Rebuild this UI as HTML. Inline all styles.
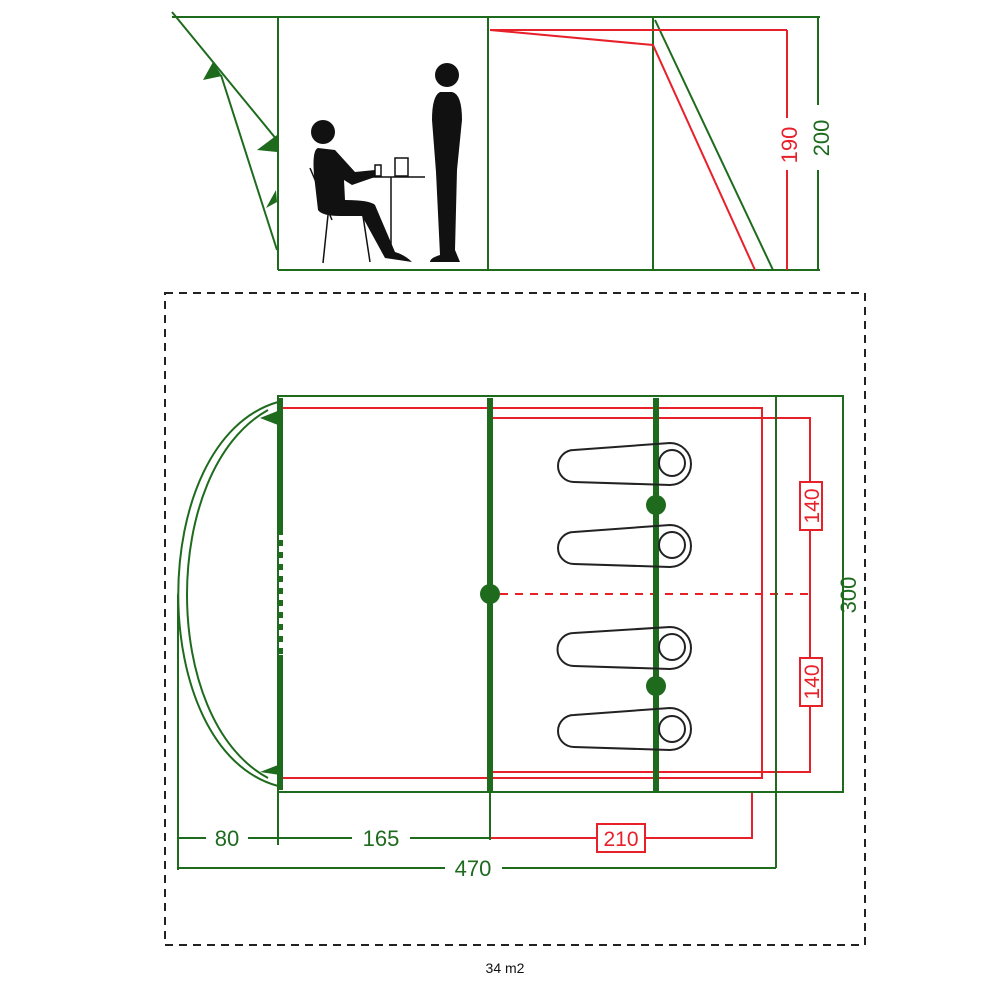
<!DOCTYPE html>
<html><head><style>body{margin:0;background:#fff}svg{display:block}</style></head><body>
<svg width="1000" height="1000" viewBox="0 0 1000 1000" xmlns="http://www.w3.org/2000/svg" font-family="Liberation Sans, sans-serif">
<g fill="none" stroke="#1e6b1e" stroke-width="2">
<line x1="172" y1="17" x2="820" y2="17"/>
<line x1="278" y1="270" x2="820" y2="270"/>
<line x1="278" y1="17" x2="278" y2="270"/>
<line x1="488" y1="17" x2="488" y2="270"/>
<line x1="653" y1="17" x2="653" y2="270"/>
<line x1="818" y1="17" x2="818" y2="105"/>
<line x1="818" y1="170" x2="818" y2="270"/>
<line x1="172" y1="12" x2="277" y2="140"/>
<line x1="221" y1="75" x2="277" y2="250"/>
<line x1="655" y1="20" x2="773" y2="270"/>
</g>
<g fill="#1e6b1e">
<polygon points="213,62 203,80 222,76"/>
<polygon points="277,135 257,150 277,152"/>
<polygon points="276,190 266,208 277,202"/>
</g>
<g fill="none" stroke="#e8202a" stroke-width="2">
<line x1="490" y1="30" x2="787" y2="30"/>
<polyline points="490,30 653,45 755,270"/>
<line x1="787" y1="30" x2="787" y2="118"/>
<line x1="787" y1="170" x2="787" y2="270"/>
</g>
<text x="0" y="0" transform="translate(797,145) rotate(-90)" text-anchor="middle" font-size="22" fill="#e8202a">190</text>
<text x="0" y="0" transform="translate(829,138) rotate(-90)" text-anchor="middle" font-size="22" fill="#1e6b1e">200</text>
<g fill="#111">
<circle cx="447" cy="75" r="12"/>
<path d="M440,92 Q432,96 432,120 L436,172 L440,255 Q430,258 430,262 L460,262 L455,250 L457,170 L462,120 Q462,94 452,92 Z"/>
<circle cx="323" cy="132" r="12"/>
<path d="M318,148 Q312,150 314,175 L318,210 Q322,216 340,216 L362,216 L385,258 L412,262 Q405,255 395,252 L375,205 Q370,200 345,200 L344,180 L352,185 L375,177 L375,170 L355,172 L335,150 Z"/>
</g>
<g fill="none" stroke="#111" stroke-width="1.5">
<line x1="310" y1="168" x2="332" y2="220"/>
<line x1="328" y1="215" x2="323" y2="263"/>
<line x1="363" y1="216" x2="370" y2="262"/>
<line x1="350" y1="177" x2="425" y2="177"/>
<line x1="391" y1="177" x2="391" y2="245"/>
<rect x="375" y="165" width="6" height="11"/>
<rect x="395" y="158" width="13" height="18"/>
</g>
<rect x="165" y="293" width="700" height="652" fill="none" stroke="#222" stroke-width="2" stroke-dasharray="8,6"/>
<text x="505" y="973" text-anchor="middle" font-size="14" fill="#111">34 m2</text>
<g fill="none" stroke="#e8202a" stroke-width="2">
<polyline points="282,408 762,408 762,778 282,778"/>
<polyline points="490,418 810,418 810,772 490,772"/>
<line x1="500" y1="594" x2="810" y2="594" stroke-dasharray="8,7"/>
<polyline points="752,792 752,838 490,838"/>
</g>
<g fill="none" stroke="#1e6b1e" stroke-width="2">
<rect x="278" y="396" width="565" height="396"/>
<line x1="776" y1="396" x2="776" y2="868"/>
<line x1="843" y1="396" x2="843" y2="565"/>
<line x1="843" y1="625" x2="843" y2="792"/>
<path d="M278,402 C145,440 145,750 278,786"/>
<path d="M268,410 C160,470 160,720 268,778"/>
<line x1="178" y1="594" x2="178" y2="870"/>
<line x1="278" y1="792" x2="278" y2="845"/>
<line x1="490" y1="792" x2="490" y2="840"/>
<line x1="178" y1="838" x2="206" y2="838"/>
<line x1="248" y1="838" x2="352" y2="838"/>
<line x1="410" y1="838" x2="490" y2="838"/>
<line x1="178" y1="868" x2="445" y2="868"/>
<line x1="502" y1="868" x2="776" y2="868"/>
</g>
<g stroke="#1e6b1e" stroke-width="6" fill="none">
<line x1="280" y1="398" x2="280" y2="535"/>
<line x1="280" y1="540" x2="280" y2="655" stroke-dasharray="6,6"/>
<line x1="280" y1="655" x2="280" y2="790"/>
<line x1="490" y1="398" x2="490" y2="792"/>
<line x1="656" y1="398" x2="656" y2="792"/>
</g>
<g fill="#1e6b1e">
<polygon points="280,410 260,418 278,425"/>
<polygon points="280,775 260,772 278,765"/>
<circle cx="490" cy="594" r="10"/>
<circle cx="656" cy="505" r="10"/>
<circle cx="656" cy="686" r="10"/>
</g>
<g fill="none" stroke="#222" stroke-width="2">
<path d="M574,450 L670,443 A21,21 0 0 1 670,485 L574,482 A16,16 0 0 1 574,450 Z"/><circle cx="672" cy="463" r="13"/>
<path d="M574,532 L670,525 A21,21 0 0 1 670,567 L574,564 A16,16 0 0 1 574,532 Z"/><circle cx="672" cy="545" r="13"/>
<path d="M574,633 L670,627 A21,21 0 0 1 670,669 L574,666 A16,16 0 0 1 574,633 Z"/><circle cx="672" cy="647" r="13"/>
<path d="M574,715 L670,708 A21,21 0 0 1 670,750 L574,747 A16,16 0 0 1 574,715 Z"/><circle cx="672" cy="729" r="13"/>
</g>
<g fill="#fff" stroke="#e8202a" stroke-width="2">
<rect x="800" y="482" width="22" height="48"/>
<rect x="800" y="658" width="22" height="48"/>
<rect x="597" y="824" width="48" height="28"/>
</g>
<text transform="translate(819,506) rotate(-90)" text-anchor="middle" font-size="21" fill="#e8202a">140</text>
<text transform="translate(819,682) rotate(-90)" text-anchor="middle" font-size="21" fill="#e8202a">140</text>
<text transform="translate(856,595) rotate(-90)" text-anchor="middle" font-size="22" fill="#1e6b1e">300</text>
<text x="621" y="846" text-anchor="middle" font-size="21" fill="#e8202a">210</text>
<text x="227" y="846" text-anchor="middle" font-size="22" fill="#1e6b1e">80</text>
<text x="381" y="846" text-anchor="middle" font-size="22" fill="#1e6b1e">165</text>
<text x="473" y="876" text-anchor="middle" font-size="22" fill="#1e6b1e">470</text>
</svg>
</body></html>
